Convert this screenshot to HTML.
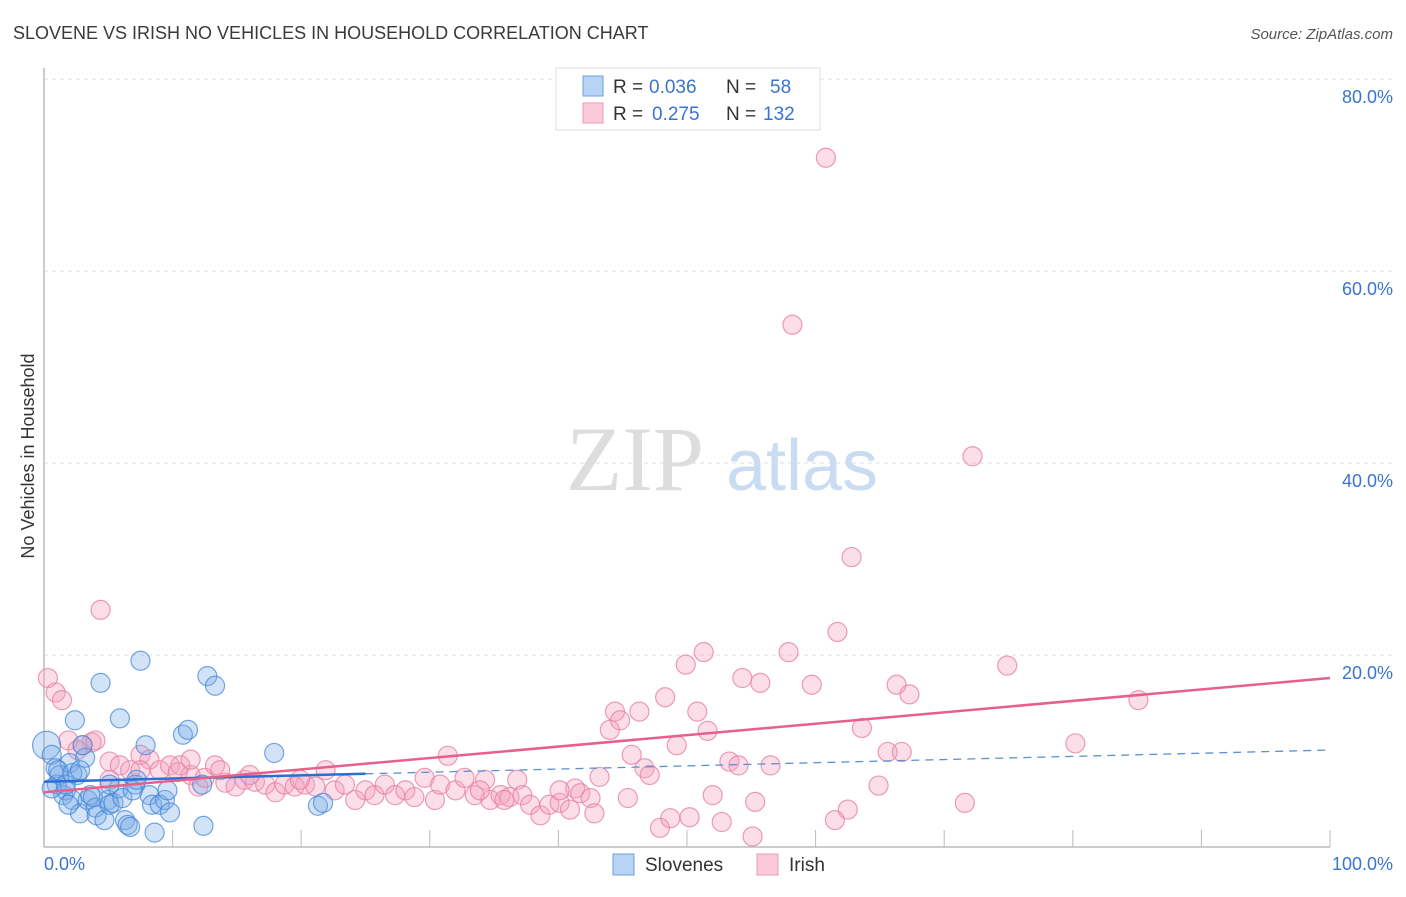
<!DOCTYPE html>
<html><head><meta charset="utf-8"><style>
body{margin:0;background:#fff;font-family:"Liberation Sans",sans-serif;}
</style></head><body>
<svg width="1406" height="892" xmlns="http://www.w3.org/2000/svg">
<text x="13" y="39" font-size="18" fill="#3a3a3a">SLOVENE VS IRISH NO VEHICLES IN HOUSEHOLD CORRELATION CHART</text>
<text x="1393" y="39" font-size="15" fill="#555" font-style="italic" text-anchor="end">Source: ZipAtlas.com</text>
<g>
<text x="635" y="490" font-size="92" fill="#ddd" font-family="Liberation Serif,serif" text-anchor="middle">ZIP</text>
<text x="802" y="490" font-size="72" fill="#c9dcf2" text-anchor="middle">atlas</text>
</g>
<g id="grid"></g>
<g id="axes"></g>
<g id="marks"></g>
<text transform="translate(34,456) rotate(-90)" font-size="18" fill="#333" text-anchor="middle">No Vehicles in Household</text>
<g>
<rect x="556" y="68" width="264" height="62" fill="#fff" stroke="#ddd"/>
<rect x="583" y="76" width="20" height="20" fill="#b8d4f5" stroke="#6a9ee0"/>
<rect x="583" y="103" width="20" height="20" fill="#fbc9d8" stroke="#ec9ab5"/>
<text x="613" y="93" font-size="19" fill="#333">R =</text>
<text x="649" y="93" font-size="19" fill="#3a74d0">0.036</text>
<text x="726" y="93" font-size="19" fill="#333">N =</text>
<text x="770" y="93" font-size="19" fill="#3a74d0">58</text>
<text x="613" y="120" font-size="19" fill="#333">R =</text>
<text x="652" y="120" font-size="19" fill="#3a74d0">0.275</text>
<text x="726" y="120" font-size="19" fill="#333">N =</text>
<text x="763" y="120" font-size="19" fill="#3a74d0">132</text>
</g>
<g>
<rect x="613" y="854" width="21" height="21" fill="#b8d4f5" stroke="#6a9ee0"/>
<text x="645" y="871" font-size="19" fill="#333">Slovenes</text>
<rect x="757" y="854" width="21" height="21" fill="#fbc9d8" stroke="#ec9ab5"/>
<text x="789" y="871" font-size="19" fill="#333">Irish</text>
</g>
</svg>
<script>
const yTicks=[20,40,60,80];
const yTickLabels=["20.0%","40.0%","60.0%","80.0%"];
const xTickLabels=["0.0%","100.0%"];
const blueX=[0.2,0.6,0.9,1.0,1.2,1.5,1.7,2.0,2.2,2.4, 2.6,2.8,3.2,3.4,3.6,4.0,4.1,4.4,4.7,5.0, 5.1,5.4,5.8,5.9,6.1,6.3,6.5,6.7,7.1,7.5, 7.9,8.2,8.4,8.6,9.0,9.4,9.8,10.8,11.2,12.3, 12.4,12.7,13.3,17.9,21.3,21.7,0.6,1.1,1.7,1.9, 2.2,2.8,3.0,3.8,5.1,6.9,7.2,9.6];
const blueY=[10.6,9.6,8.2,6.5,7.5,5.4,5.9,8.75,4.9,13.2, 7.5,3.5,9.3,4.9,5.4,4.1,3.3,17.1,2.8,4.9, 4.4,4.6,6.1,13.4,5.1,2.8,2.3,2.1,6.5,19.4, 10.6,5.4,4.4,1.5,4.4,4.9,3.6,11.7,12.2,6.5, 2.2,17.8,16.8,9.8,4.3,4.6,6.1,8.0,6.5,4.4, 7.7,8.0,10.6,5.2,6.5,5.9,7.0,5.9];
const pinkX=[0.3,0.9,1.4,4.4,3.7,3.0,1.9,4.0,2.6,7.5, 8.2,9.0,5.1,5.9,6.7,9.8,10.4,11.4,12.0,12.5, 13.3,14.1,14.9,15.6,16.4,17.2,18.0,18.7,19.5,20.3, 21.1,21.9,22.6,23.4,24.2,25.0,25.7,26.5,27.3,28.1, 28.8,29.6,30.4,30.8,31.4,32.0,32.7,33.5,34.3,34.7, 35.5,36.2,36.8,37.2,37.8,38.6,39.3,40.1,40.9,41.3, 41.7,42.5,42.8,43.2,44.0,44.4,44.8,45.4,45.7,46.3, 46.7,47.1,47.9,48.3,48.7,49.2,49.9,50.2,50.8,51.3, 51.6,52.0,52.7,53.3,54.0,54.3,55.1,55.3,55.7,56.5, 57.9,58.2,59.7,60.8,61.5,61.7,62.5,62.8,63.6,64.9, 65.6,66.3,66.7,67.3,71.6,72.2,74.9,80.2,85.1,10.6, 13.7,16.0,19.9,33.9,35.8,40.1,11.4,5.1,7.5];
const pinkY=[17.6,16.1,15.3,24.7,10.9,10.6,11.1,11.1,10.1,9.6, 9.1,8.0,8.9,8.5,8.0,8.5,7.8,7.5,6.3,7.2, 8.5,6.7,6.3,7.0,6.8,6.5,5.7,6.5,6.3,6.5, 6.3,8.0,5.9,6.5,4.9,5.9,5.4,6.5,5.4,5.9, 5.2,7.2,4.9,6.5,9.5,5.9,7.2,5.4,7.0,4.9, 5.4,5.2,7.0,5.4,4.4,3.3,4.4,4.6,3.9,6.1, 5.6,5.1,3.5,7.3,12.2,14.1,13.2,5.1,9.6,14.1, 8.2,7.5,2.0,15.6,3.0,10.6,19.0,3.1,14.1,20.3, 12.1,5.4,2.6,8.9,8.5,17.6,1.1,4.7,17.1,8.5, 20.3,54.4,16.9,71.8,2.8,22.4,3.9,30.2,12.4,6.4, 9.9,16.9,9.9,15.9,4.6,40.7,18.9,10.8,15.3,8.5, 8.0,7.5,7.0,5.9,4.9,5.9,9.1,7.0,8.0];
const pinkTrend=[5.7,17.6];
const blueTrend=[6.8,10.1];
const blueSolidEnd=25;

const NS="http://www.w3.org/2000/svg";
const X0=44,X1=1330,Y0=847,Y80=79;
const sx=v=>X0+(X1-X0)*v/100;
const sy=v=>Y0-(Y0-Y80)*v/80;
function mk(tag,attrs,parent){const e=document.createElementNS(NS,tag);for(const k in attrs)e.setAttribute(k,attrs[k]);document.getElementById(parent).appendChild(e);return e;}
yTicks.forEach((t,i)=>{
 const g=mk('line',{x1:X0,x2:1393,y1:sy(t),y2:sy(t),stroke:'#ddd','stroke-dasharray':'4,4'},'grid');
 
 
 const l=mk('text',{x:1393,y:sy(t)+24,'font-size':18,fill:'#3a74d0','text-anchor':'end'},'grid');
 l.textContent=yTickLabels[i];
 
 
});
const ax=mk('line',{x1:X0,x2:X0,y1:68,y2:Y0,stroke:'#bbb','stroke-width':1.5},'axes');


const bx=mk('line',{x1:X0,x2:X1,y1:Y0,y2:Y0,stroke:'#bbb','stroke-width':1.5},'axes');


for(let k=1;k<=10;k++){const t=mk('line',{x1:sx(k*10),x2:sx(k*10),y1:830,y2:Y0,stroke:'#bbb'},'axes');
 
 }
const xl0=mk('text',{x:44,y:870,'font-size':18,fill:'#3a74d0'},'axes');xl0.textContent=xTickLabels[0];


const xl1=mk('text',{x:1393,y:870,'font-size':18,fill:'#3a74d0','text-anchor':'end'},'axes');xl1.textContent=xTickLabels[1];


pinkX.forEach((x,i)=>{const c=mk('circle',{cx:sx(x),cy:sy(pinkY[i]),r:9.5,fill:'rgba(244,160,190,0.35)',stroke:'rgba(232,130,165,0.8)','stroke-width':1.2},'marks');
 
 });
blueX.forEach((x,i)=>{const c=mk('circle',{cx:sx(x),cy:sy(blueY[i]),r:i===0?14:9.5,fill:'rgba(120,170,230,0.33)',stroke:'rgba(60,130,215,0.7)','stroke-width':1.2},'marks');
 
 });
const bt=v=>blueTrend[0]+(blueTrend[1]-blueTrend[0])*v/100;
const bd=mk('line',{x1:sx(blueSolidEnd),y1:sy(bt(blueSolidEnd)),x2:sx(100),y2:sy(bt(100)),stroke:'#5b8fd6','stroke-width':1.3,'stroke-dasharray':'8,6'},'marks');


const bs=mk('line',{x1:sx(0),y1:sy(bt(0)),x2:sx(blueSolidEnd),y2:sy(bt(blueSolidEnd)),stroke:'#2a6fd6','stroke-width':2.5},'marks');


const pt=mk('line',{x1:sx(0),y1:sy(pinkTrend[0]),x2:sx(100),y2:sy(pinkTrend[1]),stroke:'#e8608a','stroke-width':2.5},'marks');


</script>
</body></html>
